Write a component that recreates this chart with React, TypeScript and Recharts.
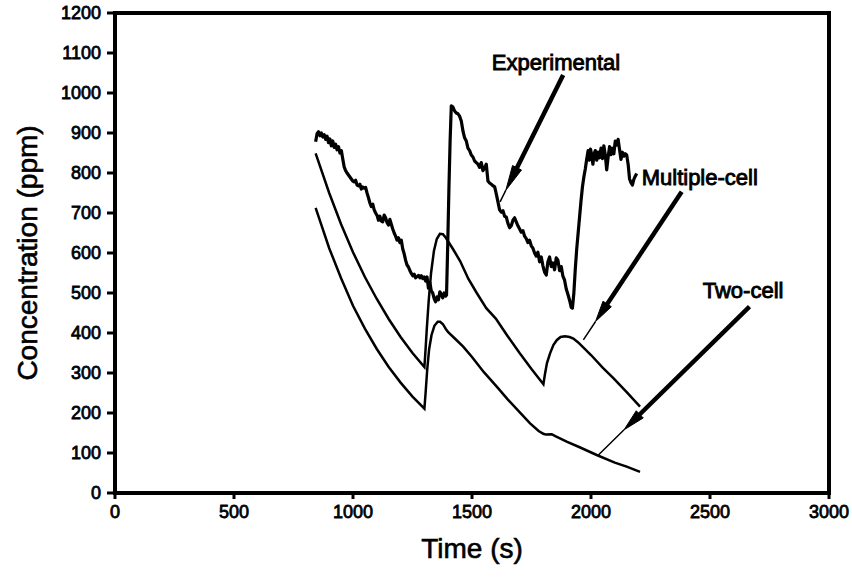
import React from "react";
import {
  LineChart,
  Line,
  XAxis,
  YAxis,
  ReferenceArea,
  ReferenceLine,
  ReferenceDot,
  Label,
} from "recharts";

// ---------- data ----------
const xTicks = [0, 500, 1000, 1500, 2000, 2500, 3000];
const yTicks = [0, 100, 200, 300, 400, 500, 600, 700, 800, 900, 1000, 1100, 1200];

const expTime = [
  843, 849, 855, 861, 867, 873, 879, 885, 891, 897, 903, 909, 915, 921, 927, 933, 939, 945, 951, 957,
  963, 969, 975, 981, 987, 993, 999, 1005, 1011, 1017, 1023, 1029, 1035, 1041, 1047, 1053, 1059, 1065,
  1071, 1077, 1083, 1089, 1095, 1101, 1107, 1113, 1119, 1125, 1131, 1137, 1143, 1149, 1155, 1161, 1167,
  1173, 1179, 1185, 1191, 1197, 1203, 1209, 1215, 1221, 1227, 1233, 1239, 1245, 1251, 1257, 1263, 1269,
  1275, 1281, 1287, 1293, 1299, 1305, 1311, 1317, 1323, 1329, 1335, 1341, 1347, 1353, 1359, 1365, 1371,
  1377, 1383, 1389, 1393, 1398, 1403, 1408, 1413, 1420, 1427, 1434, 1441, 1448, 1455, 1462, 1469, 1476,
  1483, 1490, 1497, 1504, 1511, 1518, 1525, 1532, 1539, 1546, 1553, 1560, 1567, 1574, 1581, 1588, 1595,
  1602, 1609, 1616, 1623, 1630, 1637, 1644, 1651, 1658, 1665, 1672, 1679, 1686, 1693, 1700, 1707, 1714,
  1721, 1728, 1735, 1742, 1749, 1756, 1763, 1770, 1777, 1784, 1791, 1798, 1805, 1812, 1819, 1826, 1833,
  1840, 1847, 1854, 1861, 1868, 1875, 1882, 1889, 1896, 1903, 1910, 1917, 1922, 1928, 1934, 1940, 1946,
  1952, 1958, 1964, 1970, 1976, 1982, 1988, 1993, 1998, 2003, 2008, 2013, 2018, 2024, 2030, 2036, 2042,
  2048, 2054, 2060, 2066, 2072, 2078, 2084, 2090, 2096, 2102, 2108, 2114, 2120, 2126, 2132, 2138, 2144,
  2150, 2156, 2162, 2168, 2174, 2180, 2186, 2192,
];
const expConc = [
  878, 898, 903, 893, 900, 890, 896, 884, 892, 876, 885, 868, 880, 864, 872, 858, 866, 850, 856, 835,
  815, 806, 800, 795, 790, 785, 780, 778, 782, 770, 768, 772, 760, 765, 762, 764, 750, 738,
  725, 716, 722, 708, 700, 694, 682, 692, 680, 678, 695, 688, 676, 670, 684, 672, 660,
  650, 642, 632, 638, 626, 632, 610, 598, 582, 570, 565, 556, 549, 543, 547, 538, 541,
  544, 538, 543, 536, 540, 530, 540, 512, 526, 505, 500, 486, 478, 490, 483, 503, 497,
  488, 500, 492, 495, 620, 760, 880, 968, 965, 955, 950, 948, 942, 930, 905, 888, 880,
  862, 856, 845, 840, 830, 826, 822, 814, 826, 806, 812, 822, 780, 775, 772, 768, 766,
  748, 728, 708, 702, 706, 692, 690, 674, 663, 668, 682, 688, 678, 668, 660, 652, 656,
  642, 636, 626, 632, 618, 612, 600, 592, 602, 578, 590, 568, 552, 545, 578, 590, 566,
  575, 558, 588, 582, 556, 566, 542, 532, 510, 497, 482, 464, 462, 500, 560, 610, 650,
  690, 730, 765, 790, 810, 835, 856, 832, 860, 845, 822, 848, 856, 832, 852, 838, 862,
  836, 868, 845, 808, 840, 866, 846, 862, 848, 880, 870, 884, 858, 834, 852, 842, 848,
  845, 822, 785, 776, 770, 784, 792, 799,
];

const multiTime = [
  843, 900, 950, 1000, 1050, 1100, 1150, 1200, 1250, 1300, 1305, 1310, 1318, 1328, 1340, 1352, 1365,
  1378, 1390, 1420, 1450, 1485, 1520, 1560, 1600, 1650, 1700, 1750, 1800, 1807, 1815, 1828, 1842,
  1856, 1872, 1891, 1910, 1926, 1945, 1961, 2000, 2050, 2094, 2150, 2206,
];
const multiConc = [
  849, 750, 672, 602, 540, 485, 435, 390, 350, 315, 360, 410, 480, 550, 605, 635, 648,
  647, 638, 610, 580, 535, 500, 462, 436, 392, 350, 310, 272, 299, 325, 349, 370,
  382, 390, 392, 390, 386, 377, 368, 345, 313, 287, 252, 216,
];

const twoTime = [
  843, 900, 950, 1000, 1050, 1100, 1150, 1200, 1250, 1300, 1305, 1312, 1320, 1330, 1342, 1356, 1366,
  1378, 1390, 1400, 1430, 1463, 1500, 1550, 1604, 1650, 1700, 1744, 1780, 1800, 1810, 1835, 1850,
  1900, 1950, 2024, 2100, 2150, 2206,
];
const twoConc = [
  713, 612, 537, 468, 411, 360, 315, 276, 241, 211, 250, 310, 360, 395, 418, 428, 428,
  422, 410, 402, 385, 366, 340, 302, 266, 234, 202, 174, 155, 148, 146, 147, 142,
  128, 115, 95, 76, 66, 53,
];

// annotation anchors in data units
const labelNames = ["Experimental", "Multiple-cell", "Two-cell"];
const labelTime = [1853, 2213, 2639];
const labelConc = [1078, 791, 508];
const arrowFromTime = [1883, 2381, 2666];
const arrowFromConc = [1045, 753, 466];
const arrowToTime = [1618, 1968, 2031];
const arrowToConc = [728, 383, 95];

const zip = (ts: number[], vs: number[]) => ts.map((t, i) => ({ t, v: vs[i] }));
const expData = zip(expTime, expConc);
const multiData = zip(multiTime, multiConc);
const twoData = zip(twoTime, twoConc);

// ---------- styles ----------
const FONT = "'Liberation Sans', Arial, Helvetica, sans-serif";
const arrowHeads = [
  { base: 38, apex: 13 },
  { base: 43, apex: 22 },
  { base: 58, apex: 36 },
];
const labelAnchors: ("middle" | "start")[] = ["middle", "start", "middle"];

const makeArrow = (base: number, apex: number) => (props: any) => {
  const { x1, y1, x2, y2 } = props;
  const dx = x2 - x1;
  const dy = y2 - y1;
  const L = Math.hypot(dx, dy) || 1;
  const ux = dx / L;
  const uy = dy / L;
  const px = -uy;
  const py = ux;
  const bx = x2 - ux * base;
  const by = y2 - uy * base;
  const ax = x2 - ux * apex;
  const ay = y2 - uy * apex;
  const hw = 5;
  return (
    <g>
      <line x1={x1} y1={y1} x2={bx + ux * 2} y2={by + uy * 2} stroke="#000" strokeWidth={4.5} />
      <polygon
        points={`${bx + px * hw},${by + py * hw} ${ax},${ay} ${bx - px * hw},${by - py * hw}`}
        fill="#000"
        stroke="#000"
        strokeWidth={1}
      />
      <line x1={ax} y1={ay} x2={x2} y2={y2} stroke="#000" strokeWidth={1.5} />
    </g>
  );
};

const makeText = (text: string, anchor: "middle" | "start") => (props: any) => (
  <text
    x={props.cx}
    y={props.cy}
    dy="0.36em"
    textAnchor={anchor}
    fontFamily={FONT}
    fontSize={22}
    fill="#000"
    stroke="#000"
    strokeWidth={0.9}
  >
    {text}
  </text>
);

const tickStyle = {
  fill: "#000",
  fontSize: 18,
  fontFamily: FONT,
  stroke: "#000",
  strokeWidth: 0.8,
};

export default function App() {
  return (
    <div style={{ position: "absolute", left: 0, top: 0, width: 852, height: 577, background: "#fff" }}>
      <LineChart width={852} height={577} margin={{ top: 13, right: 23, left: 0, bottom: 0 }}>
        <XAxis
          type="number"
          dataKey="t"
          domain={[0, 3000]}
          ticks={xTicks}
          allowDataOverflow
          height={84}
          tickSize={6}
          tickMargin={6}
          tick={tickStyle}
          tickLine={{ stroke: "#000", strokeWidth: 3 }}
          axisLine={{ stroke: "#000", strokeWidth: 4 }}
        >
          <Label
            content={(p: any) => {
              const vb = p.viewBox || {};
              const cx = vb.x + vb.width / 2;
              const cy = vb.y + 55;
              return (
                <text
                  x={cx}
                  y={cy}
                  dy="0.36em"
                  textAnchor="middle"
                  fontFamily={FONT}
                  fontSize={28}
                  fill="#000"
                  stroke="#000"
                  strokeWidth={0.6}
                >
                  Time (s)
                </text>
              );
            }}
          />
        </XAxis>
        <YAxis
          type="number"
          domain={[0, 1200]}
          ticks={yTicks}
          allowDataOverflow
          width={115}
          tickSize={8}
          tickMargin={6}
          tick={tickStyle}
          tickLine={{ stroke: "#000", strokeWidth: 3 }}
          axisLine={{ stroke: "#000", strokeWidth: 4 }}
        >
          <Label
            content={(p: any) => {
              const vb = p.viewBox || {};
              const cx = vb.x + 27;
              const cy = vb.y + vb.height / 2;
              return (
                <text
                  x={cx}
                  y={cy}
                  transform={`rotate(-90 ${cx} ${cy})`}
                  dy="0.36em"
                  textAnchor="middle"
                  fontFamily={FONT}
                  fontSize={28}
                  fill="#000"
                  stroke="#000"
                  strokeWidth={0.6}
                >
                  Concentration (ppm)
                </text>
              );
            }}
          />
        </YAxis>
        <ReferenceArea
          x1={0}
          x2={3000}
          y1={0}
          y2={1200}
          fill="none"
          fillOpacity={0}
          stroke="#000"
          strokeWidth={4}
          ifOverflow="visible"
        />
        <Line
          data={twoData}
          dataKey="v"
          type="linear"
          stroke="#000"
          strokeWidth={2.5}
          dot={false}
          isAnimationActive={false}
        />
        <Line
          data={multiData}
          dataKey="v"
          type="linear"
          stroke="#000"
          strokeWidth={2.5}
          dot={false}
          isAnimationActive={false}
        />
        <Line
          data={expData}
          dataKey="v"
          type="linear"
          stroke="#000"
          strokeWidth={3.2}
          strokeLinejoin="round"
          dot={false}
          isAnimationActive={false}
        />
        {labelNames.map((name, i) => (
          <ReferenceLine
            key={"arrow-" + name}
            segment={[
              { x: arrowFromTime[i], y: arrowFromConc[i] },
              { x: arrowToTime[i], y: arrowToConc[i] },
            ]}
            ifOverflow="visible"
            shape={makeArrow(arrowHeads[i].base, arrowHeads[i].apex)}
          />
        ))}
        {labelNames.map((name, i) => (
          <ReferenceDot
            key={"label-" + name}
            x={labelTime[i]}
            y={labelConc[i]}
            ifOverflow="visible"
            shape={makeText(name, labelAnchors[i])}
          />
        ))}
      </LineChart>
    </div>
  );
}
